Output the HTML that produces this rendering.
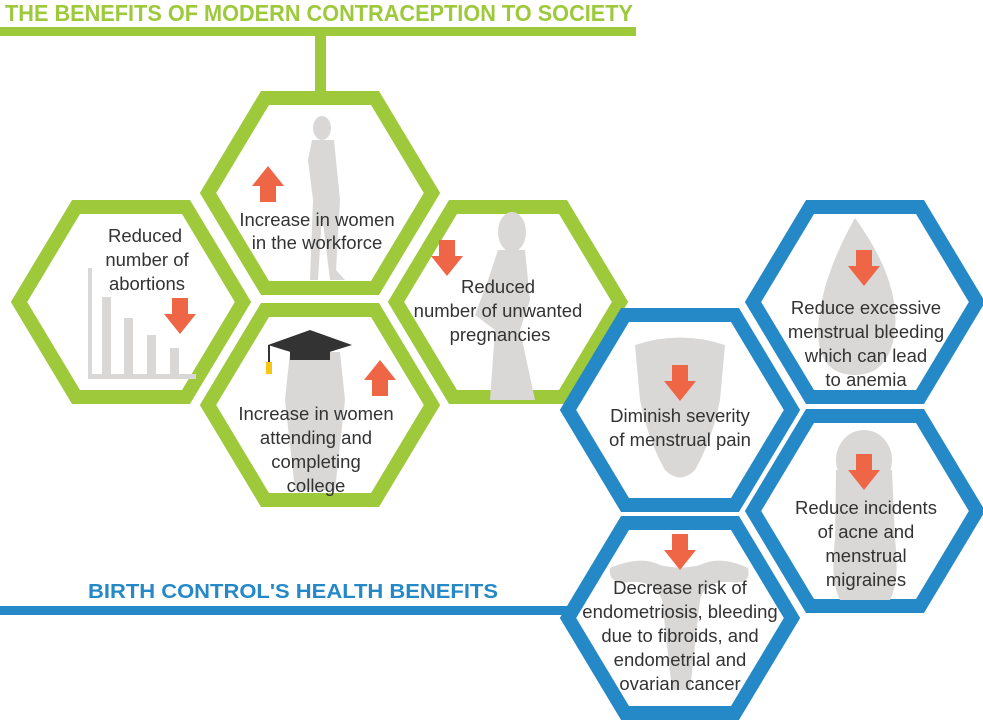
<!DOCTYPE html>
<html><head><meta charset="utf-8"><style>
html,body{margin:0;padding:0;background:#fff}
svg{display:block}
text{font-family:"Liberation Sans",sans-serif}
.t{font-size:18.5px;fill:#333;text-anchor:middle}
</style></head><body>
<svg width="983" height="723" viewBox="0 0 983 723" xmlns="http://www.w3.org/2000/svg">
<defs>
<polygon id="hx" points="-112,0 -55,-95 55,-95 112,0 55,95 -55,95"/>
<polygon id="dn" points="-8,-18 8,-18 8,-2 16,-2 0,18 -16,-2 -8,-2"/>
<polygon id="up" points="-8,18 8,18 8,2 16,2 0,-18 -16,2 -8,2"/>
</defs>
<text x="5" y="21" font-size="23" font-weight="bold" fill="#9dc93b" textLength="628" lengthAdjust="spacingAndGlyphs">THE BENEFITS OF MODERN CONTRACEPTION TO SOCIETY</text>
<rect x="0" y="27" width="636" height="9" fill="#9dc93b"/>
<rect x="315" y="30" width="11" height="66" fill="#9dc93b"/>
<text x="88" y="598" font-size="20" font-weight="bold" fill="#2589c7" textLength="410" lengthAdjust="spacingAndGlyphs">BIRTH CONTROL'S HEALTH BENEFITS</text>
<rect x="0" y="606" width="575" height="9" fill="#2589c7"/>

<g fill="#fff" stroke-width="14" stroke-linejoin="miter">
<use href="#hx" transform="translate(320,193)" stroke="#9dc93b"/>
<use href="#hx" transform="translate(131,302)" stroke="#9dc93b"/>
<use href="#hx" transform="translate(320,405)" stroke="#9dc93b"/>
<use href="#hx" transform="translate(508,302)" stroke="#9dc93b"/>
<use href="#hx" transform="translate(680,410)" stroke="#2589c7"/>
<use href="#hx" transform="translate(865,302)" stroke="#2589c7"/>
<use href="#hx" transform="translate(865,511)" stroke="#2589c7"/>
<use href="#hx" transform="translate(680,618)" stroke="#2589c7"/>
</g>

<g fill="#d9d8d7">
<ellipse cx="322" cy="128" rx="9" ry="12"/>
<path d="M312,140 L334,140 L340,200 L336,270 L345,280 L330,280 L322,215 L318,280 L310,280 L313,200 L308,160 Z"/>
<rect x="88" y="268" width="4" height="110"/>
<rect x="88" y="374" width="108" height="5"/>
<rect x="102" y="297" width="9" height="78"/>
<rect x="124" y="318" width="9" height="57"/>
<rect x="147" y="335" width="9" height="40"/>
<rect x="170" y="348" width="9" height="27"/>
<ellipse cx="512" cy="232" rx="14" ry="20"/>
<path d="M498,250 L525,250 L530,300 L520,330 L535,400 L490,400 L495,330 L475,315 L488,280 Z"/>
<path d="M290,352 L340,352 L345,400 L335,490 L295,490 L285,400 Z"/>
<path d="M635,345 Q680,330 725,345 L720,400 Q712,440 695,470 Q680,485 665,470 Q648,440 640,400 Z"/>
<path d="M855,218 Q900,280 895,330 Q890,375 855,375 Q818,375 818,330 Q820,280 855,218 Z"/>
<ellipse cx="864" cy="460" rx="28" ry="30"/>
<path d="M836,470 L892,470 L895,540 Q900,580 890,600 L840,600 Q830,580 835,540 Z"/>
<path d="M610,568 Q640,555 660,565 Q680,570 700,565 Q720,555 748,568 Q752,585 730,582 Q705,580 700,600 L690,690 L672,690 L662,600 Q655,580 630,582 Q608,585 610,568 Z"/>
</g>
<polygon points="268,345 310,330 352,345 310,358" fill="#333"/>
<rect x="290" y="350" width="40" height="10" fill="#333"/>
<rect x="268" y="345" width="2" height="20" fill="#333"/>
<rect x="266" y="362" width="6" height="12" fill="#f5c518"/>

<g fill="#ef6646">
<use href="#up" transform="translate(268,184)"/>
<use href="#dn" transform="translate(180,316)"/>
<use href="#dn" transform="translate(447,258)"/>
<use href="#up" transform="translate(380,378)"/>
<use href="#dn" transform="translate(680,383)"/>
<use href="#dn" transform="translate(864,268)"/>
<use href="#dn" transform="translate(864,472)"/>
<use href="#dn" transform="translate(680,552)"/>
</g>

<g class="t">
<text x="317" y="226">Increase in women</text>
<text x="317" y="249">in the workforce</text>
<text x="145" y="242">Reduced</text>
<text x="147" y="266">number of</text>
<text x="147" y="290">abortions</text>
<text x="498" y="293">Reduced</text>
<text x="498" y="317">number of unwanted</text>
<text x="500" y="341">pregnancies</text>
<text x="316" y="420">Increase in women</text>
<text x="316" y="444">attending and</text>
<text x="316" y="468">completing</text>
<text x="316" y="492">college</text>
<text x="680" y="422">Diminish severity</text>
<text x="680" y="446">of menstrual pain</text>
<text x="866" y="314">Reduce excessive</text>
<text x="866" y="338">menstrual bleeding</text>
<text x="866" y="362">which can lead</text>
<text x="866" y="386">to anemia</text>
<text x="866" y="514">Reduce incidents</text>
<text x="866" y="538">of acne and</text>
<text x="866" y="562">menstrual</text>
<text x="866" y="586">migraines</text>
<text x="680" y="594">Decrease risk of</text>
<text x="680" y="618">endometriosis, bleeding</text>
<text x="680" y="642">due to fibroids, and</text>
<text x="680" y="666">endometrial and</text>
<text x="680" y="690">ovarian cancer</text>
</g>
</svg>
</body></html>
